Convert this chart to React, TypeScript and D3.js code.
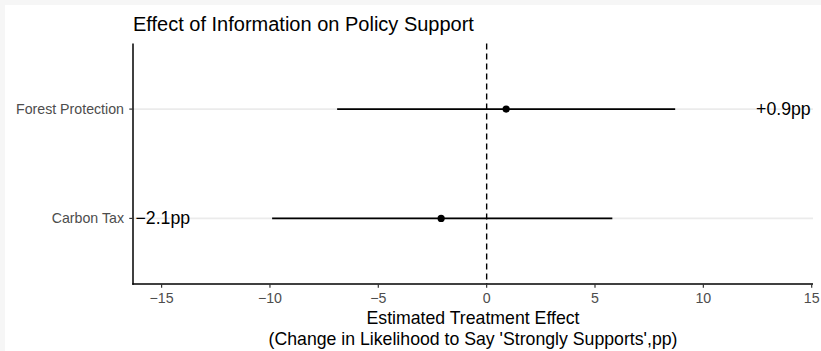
import React from "react";
import * as d3 from "d3";

// Policies and their estimated treatment effects (percentage points)
const policies = ["Carbon Tax", "Forest Protection"];
const estimates = [-2.1, 0.9];
const ciLower = [-9.9, -6.9];
const ciUpper = [5.8, 8.7];
const effectLabels = ["\u22122.1pp", "+0.9pp"];
const xTicks = [-15, -10, -5, 0, 5, 10, 15];

const W = 821;
const H = 351;
const FONT = "'Liberation Sans', Arial, Helvetica, sans-serif";

export default function App() {
  const left = 133;
  const right = 813;
  const top = 43.5;
  const bottom = 284;

  const x = d3.scaleLinear().domain([-16.32, 15.06]).range([left, right]);
  // discrete axis: 0.6 steps of expansion on each side of the categories
  const y = d3.scalePoint<string>().domain(policies).range([bottom, top]).padding(0.6);
  const yPos = (p: string) => y(p) as number;

  const fmt = (v: number) => (v < 0 ? "\u2212" + Math.abs(v) : String(v));

  return (
    <svg
      width={W}
      height={H}
      style={{ position: "absolute", left: 0, top: 0, display: "block" }}
      fontFamily={FONT}
    >
      <rect x={0} y={0} width={W} height={H} fill="#f6f6f6" />
      <rect x={5} y={5} width={W - 5} height={H - 5} fill="#ffffff" />

      {/* title */}
      <text x={left} y={31} fontSize={20} fill="#000">
        Effect of Information on Policy Support
      </text>

      {/* horizontal grid at each policy */}
      {policies.map((p) => (
        <line
          key={"g" + p}
          x1={left}
          x2={right}
          y1={yPos(p)}
          y2={yPos(p)}
          stroke="#ebebeb"
          strokeWidth={1.6}
        />
      ))}

      {/* reference line at zero */}
      <line
        x1={x(0)}
        x2={x(0)}
        y1={top}
        y2={bottom}
        stroke="#000"
        strokeWidth={1.4}
        strokeDasharray="6,4"
      />

      {/* confidence intervals and point estimates */}
      {policies.map((p, i) => (
        <g key={"m" + p}>
          <line
            x1={x(ciLower[i])}
            x2={x(ciUpper[i])}
            y1={yPos(p)}
            y2={yPos(p)}
            stroke="#000"
            strokeWidth={1.6}
          />
          <circle cx={x(estimates[i])} cy={yPos(p)} r={3.6} fill="#000" />
        </g>
      ))}

      {/* effect labels at the panel edges */}
      {policies.map((p, i) => {
        const pos = estimates[i] >= 0;
        return (
          <text
            key={"l" + p}
            x={pos ? x(15) - 1 : left + 2.5}
            y={yPos(p)}
            dy="0.33em"
            textAnchor={pos ? "end" : "start"}
            fontSize={17.7}
            fill="#000"
          >
            {effectLabels[i]}
          </text>
        );
      })}

      {/* y axis */}
      <line x1={left} x2={left} y1={top} y2={bottom + 0.75} stroke="#000" strokeWidth={1.5} />
      {policies.map((p) => (
        <g key={"yt" + p}>
          <line x1={left - 3.7} x2={left} y1={yPos(p)} y2={yPos(p)} stroke="#333" strokeWidth={1.2} />
          <text
            x={left - 9}
            y={yPos(p)}
            dy="0.35em"
            textAnchor="end"
            fontSize={14.2}
            fill="#4d4d4d"
          >
            {p}
          </text>
        </g>
      ))}

      {/* x axis */}
      <line x1={left - 0.75} x2={right} y1={bottom} y2={bottom} stroke="#000" strokeWidth={1.5} />
      {xTicks.map((t) => (
        <g key={"xt" + t}>
          <line x1={x(t)} x2={x(t)} y1={bottom} y2={bottom + 3.7} stroke="#333" strokeWidth={1.2} />
          <text x={x(t)} y={303.3} textAnchor="middle" fontSize={14.2} fill="#4d4d4d">
            {fmt(t)}
          </text>
        </g>
      ))}

      {/* x axis title */}
      <text x={(left + right) / 2} y={324.3} textAnchor="middle" fontSize={17.7} fill="#000">
        Estimated Treatment Effect
      </text>
      <text x={(left + right) / 2} y={345} textAnchor="middle" fontSize={17.7} fill="#000">
        (Change in Likelihood to Say 'Strongly Supports',pp)
      </text>
    </svg>
  );
}
